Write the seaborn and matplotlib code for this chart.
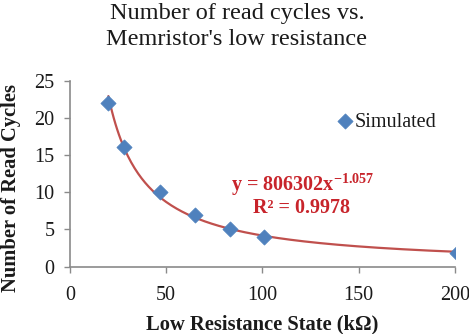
import numpy as np
import pandas as pd
import matplotlib
matplotlib.use("Agg")
import matplotlib.pyplot as plt
import seaborn as sns

# Measured points: low resistance state (kOhm) vs. number of read cycles
resistance_kohm = [20, 28, 47, 65, 83, 101, 201]
read_cycles = [22, 16.1, 10.1, 7.0, 5.0, 4.0, 1.9]

# Power-law trendline, x expressed in ohms
fit_coef = 806302
fit_exp = -1.057
fit_r2 = 0.9978

x_ticks = [0, 50, 100, 150, 200]
y_ticks = [0, 5, 10, 15, 20, 25]

sns.set_style("ticks")
plt.rcParams["font.family"] = ["Liberation Serif", "DejaVu Serif"]
plt.rcParams["mathtext.fontset"] = "custom"
plt.rcParams["mathtext.rm"] = "Liberation Serif"
plt.rcParams["mathtext.bf"] = "Liberation Serif:bold"

fig = plt.figure(figsize=(4.69, 3.34), dpi=100)
ax = fig.add_axes([0.149, 0.2015, 0.821, 0.557])

pts = pd.DataFrame({"R": resistance_kohm, "N": read_cycles})
xs = np.linspace(min(resistance_kohm), max(resistance_kohm), 200)
fit = pd.DataFrame({"R": xs, "N": fit_coef * (xs * 1000.0) ** fit_exp})

sns.lineplot(data=fit, x="R", y="N", ax=ax, color="#C0504D", lw=1.6, zorder=2)
sns.scatterplot(data=pts, x="R", y="N", ax=ax, marker="D", s=60,
                color="#4F81BD", edgecolor="#4F81BD", linewidth=0.5,
                label="Simulated", zorder=3)

ax.set_xlim(0, 200)
ax.set_ylim(0, 25)
ax.set_xticks(x_ticks)
ax.set_yticks(y_ticks)
ax.tick_params(axis="both", labelsize=14.5, colors="#8a8a8a", labelcolor="#1a1a1a",
               length=4, width=1, direction="out")
ax.tick_params(axis="x", pad=10)
ax.tick_params(axis="y", pad=7)

for side in ("top", "right"):
    ax.spines[side].set_visible(False)
for side in ("left", "bottom"):
    ax.spines[side].set_color("#8a8a8a")
    ax.spines[side].set_linewidth(1.2)

ax.set_xlabel("Low Resistance State (k\u03a9)", fontsize=14.8, fontweight="bold",
              color="#1a1a1a", labelpad=7)
ax.set_ylabel("Number of Read Cycles", fontsize=14.8, fontweight="bold",
              color="#1a1a1a")
ax.yaxis.set_label_coords(-0.127, 0.423)

fig.text(0.505, 0.99, "Number of read cycles vs.\nMemristor's low resistance",
         ha="center", va="top", fontsize=17.5, color="#1a1a1a", linespacing=1.3)

ax.text(0.605, 0.439, r"y = 806302x$^{\mathbf{-1.057}}$", transform=ax.transAxes,
        ha="center", va="center", fontsize=14.5, fontweight="bold", color="#C8242B")
ax.text(0.602, 0.315, f"R\u00b2 = {fit_r2}", transform=ax.transAxes,
        ha="center", va="center", fontsize=14.5, fontweight="bold", color="#C8242B")

leg = ax.legend(loc="center left", bbox_to_anchor=(0.69, 0.778), frameon=False,
                fontsize=14.5, handletextpad=0.05, handlelength=0.9,
                borderaxespad=0, borderpad=0)
for t in leg.get_texts():
    t.set_color("#1a1a1a")

fig.savefig("out.png", dpi=100, facecolor="white")
